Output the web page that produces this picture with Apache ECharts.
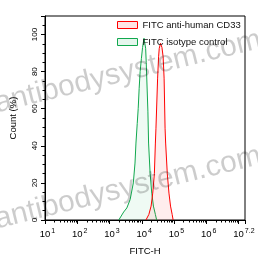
<!DOCTYPE html>
<html>
<head>
<meta charset="utf-8">
<script src="https://cdn.jsdelivr.net/npm/echarts@6/dist/echarts.min.js"></script>
<style>
  html, body { margin: 0; padding: 0; background: #fff; }
  #chart { width: 258px; height: 261px; }
</style>
</head>
<body>
<div id="chart"></div>
<script>
// x values are log10(FITC-H)
var seriesNames = ['FITC anti-human CD33', 'FITC isotype control'];
var redX = [4.130, 4.220, 4.289, 4.340, 4.391, 4.422, 4.440, 4.491, 4.521, 4.542, 4.581, 4.626, 4.662, 4.692, 4.722, 4.740, 4.791, 4.843, 4.891, 4.942, 4.972];
var redY = [0, 3, 7.5, 14.5, 25, 41.5, 49.5, 76.5, 88, 92.6, 95.3, 93, 88, 76.5, 49.5, 41.5, 25, 14.5, 7.5, 3, 0];
var greenX = [3.287, 3.438, 3.537, 3.639, 3.738, 3.790, 3.820, 3.859, 3.889, 3.919, 3.949, 3.988, 4.024, 4.069, 4.120, 4.138, 4.190, 4.211, 4.259, 4.310, 4.361, 4.422, 4.461];
var greenY = [0, 4.3, 6.5, 11, 20, 30.7, 41.5, 52, 60, 71, 80, 87, 93, 98, 92.6, 85, 58.7, 41.5, 25, 14.5, 7.5, 3, 0];
var xMajor = [1, 2, 3, 4, 5, 6, 7];
var xExpLabels = ['1', '2', '3', '4', '5', '6', '7.2'];
var yTicks = [0, 20, 40, 60, 80, 100];

var FONT = '"Liberation Sans", Arial, sans-serif';

// minor log ticks 2..9 x 10^n
var xMinor = [];
for (var n = 1; n < 7; n++) {
    for (var k = 2; k <= 9; k++) xMinor.push(n + Math.log10(k));
}

function pairs(xs, ys) {
    return xs.map(function (x, i) { return [x, ys[i]]; });
}

var chart = echarts.init(document.getElementById('chart'));

chart.setOption({
    animation: false,
    textStyle: { fontFamily: FONT },
    grid: {
        left: 39, right: 13, top: 16, bottom: 39,
        show: true, borderColor: '#000', borderWidth: 1
    },
    legend: {
        orient: 'vertical',
        left: 117, top: 20,
        padding: 0,
        itemWidth: 20, itemHeight: 7, itemGap: 7,
        icon: 'rect',
        textStyle: { fontSize: 9.5, color: '#111', fontFamily: FONT },
        data: [
            { name: seriesNames[0], itemStyle: { color: 'rgba(255,0,0,0.1)', borderColor: '#ff0000', borderWidth: 1 } },
            { name: seriesNames[1], itemStyle: { color: 'rgba(0,170,80,0.1)', borderColor: '#11a84e', borderWidth: 1 } }
        ]
    },
    xAxis: [{
        type: 'value', min: 1, max: 7.2,
        name: 'FITC-H', nameLocation: 'middle', nameGap: 26,
        nameTextStyle: { fontSize: 9.5, color: '#000', fontFamily: FONT },
        axisLine: { lineStyle: { color: '#000', width: 1 } },
        axisTick: { customValues: xMajor.concat([7.2]), length: 4, lineStyle: { color: '#000' } },
        splitLine: { show: false },
        axisLabel: {
            customValues: xMajor,
            margin: 8,
            formatter: function (v) {
                var e = xExpLabels[xMajor.indexOf(v)];
                return '{h|' + e + '}{b|10}{s|' + e + '}';
            },
            rich: {
                h: { fontSize: 7, color: 'rgba(0,0,0,0)', verticalAlign: 'top', lineHeight: 11 },
                b: { fontSize: 9.5, color: '#000', verticalAlign: 'bottom', lineHeight: 11, padding: [0, 1, 0, 1] },
                s: { fontSize: 7, color: '#000', verticalAlign: 'top', lineHeight: 11 }
            }
        }
    }, {
        type: 'value', min: 1, max: 7.2, gridIndex: 0, position: 'bottom',
        axisLine: { show: false },
        axisLabel: { show: false },
        splitLine: { show: false },
        axisTick: { customValues: xMinor, length: 2.5, lineStyle: { color: '#000' } }
    }],
    yAxis: {
        type: 'value', min: 0, max: 110, interval: 20,
        name: 'Count (%)', nameLocation: 'middle', nameGap: 27,
        nameTextStyle: { fontSize: 9.5, color: '#000', fontFamily: FONT },
        axisLine: { show: true, lineStyle: { color: '#000', width: 1 } },
        axisTick: { show: true, length: 4, lineStyle: { color: '#000' } },
        minorTick: { show: true, splitNumber: 4, length: 2.5, lineStyle: { color: '#000' } },
        splitLine: { show: false },
        axisLabel: {
            customValues: yTicks,
            rotate: 90, margin: 6,
            fontSize: 8, color: '#000'
        }
    },
    series: [{
        name: seriesNames[0],
        type: 'line',
        xAxisIndex: 0,
        showSymbol: false,
        data: pairs(redX, redY),
        lineStyle: { color: '#ff0000', width: 1 },
        itemStyle: { color: '#ff0000' },
        areaStyle: { color: 'rgba(255,0,0,0.1)' },
        z: 3
    }, {
        name: seriesNames[1],
        type: 'line',
        xAxisIndex: 0,
        showSymbol: false,
        data: pairs(greenX, greenY),
        lineStyle: { color: '#11a84e', width: 1 },
        itemStyle: { color: '#11a84e' },
        areaStyle: { color: 'rgba(0,170,80,0.09)' },
        z: 2
    }],
    graphic: [{
        type: 'text', x: 128, y: 72, rotation: 0.24, z: 100, silent: true,
        style: { text: 'antibodysystem.com', align: 'center', verticalAlign: 'middle', font: '30px ' + FONT, fill: 'rgba(0,0,0,0.2)' }
    }, {
        type: 'text', x: 128, y: 188, rotation: 0.24, z: 100, silent: true,
        style: { text: 'antibodysystem.com', align: 'center', verticalAlign: 'middle', font: '30px ' + FONT, fill: 'rgba(0,0,0,0.2)' }
    }]
});
</script>
</body>
</html>
